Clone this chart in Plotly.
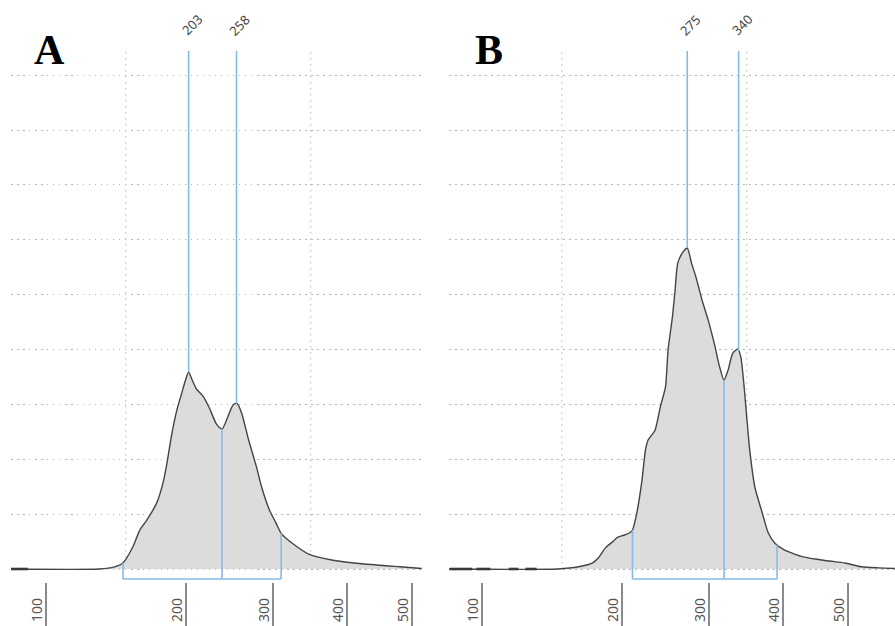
import numpy as np
import plotly.graph_objects as go

# Size ladder: fragment size (bp) vs. migration position (px units)
LADDER_BP = [100, 200, 300, 400, 500]
LADDER_POS = [0, 140, 227, 301, 366]
TICK_LABELS = ["100", "200", "300", "400", "500"]
GRID_BP = [157, 351]

# Sample A trace: size (bp) and fluorescence (grid units)
A_BP = [75, 138, 149, 155, 162, 167, 172, 179, 183.6, 186.4, 190, 193.5, 197, 199.5,
        203, 207.5, 212, 219.5, 227, 235, 241.4, 248, 254, 258.6, 264, 272, 281,
        287, 296, 304, 311, 326, 350, 381, 427, 481, 515]
A_RFU = [0, 0, 0.04, 0.11, 0.40, 0.71, 0.89, 1.20, 1.57, 1.93, 2.48, 2.90, 3.21, 3.43,
         3.59, 3.43, 3.28, 3.15, 2.93, 2.64, 2.55, 2.77, 2.99, 3.02, 2.84, 2.35, 1.86,
         1.49, 1.07, 0.84, 0.65, 0.47, 0.26, 0.16, 0.09, 0.04, 0.01]

# Sample B trace
B_BP = [76, 154, 169, 179, 183, 188, 193, 197, 203, 209, 212, 217, 223, 227, 230,
        238, 244, 250, 253, 258, 261, 264, 269, 275, 280, 285, 292, 299, 308, 314,
        320.3, 325.7, 332, 339, 343, 347, 351, 355, 362, 372, 380, 389, 402, 431,
        468, 495, 521, 547, 572]
B_RFU = [0, 0, 0.04, 0.11, 0.20, 0.38, 0.49, 0.58, 0.62, 0.66, 0.71, 1.02, 1.62, 2.17,
         2.35, 2.53, 2.95, 3.32, 4.00, 4.60, 5.08, 5.57, 5.75, 5.85, 5.57, 5.32, 4.90,
         4.54, 4.06, 3.70, 3.44, 3.62, 3.93, 4.01, 3.86, 3.39, 2.77, 2.17, 1.49, 1.02,
         0.66, 0.47, 0.35, 0.22, 0.15, 0.11, 0.04, 0.02, 0.01]

# Baseline noise segments (bp ranges)
B_NOISE = [(77, 93), (96, 106), (119, 126), (131, 139)]
A_NOISE = [(75, 87)]

A_PEAKS = [203, 258]
B_PEAKS = [275, 340]
A_REGION = [155, 241.4, 311]
B_REGION = [212, 320.3, 392]

Y_TOP = 9.44
Y_BOTTOM = -0.237
BRACKET_Y = -0.182

BLUE = "#84bbe9"
GRID = "#b4b4b4"
FONT = "Noto Sans"


def to_pos(bp):
    bp = np.asarray(bp, dtype=float)
    pos = np.interp(bp, LADDER_BP, LADDER_POS)
    lo_slope = (LADDER_POS[1] - LADDER_POS[0]) / (LADDER_BP[1] - LADDER_BP[0])
    hi_slope = (LADDER_POS[-1] - LADDER_POS[-2]) / (LADDER_BP[-1] - LADDER_BP[-2])
    pos = np.where(bp < LADDER_BP[0], LADDER_POS[0] + (bp - LADDER_BP[0]) * lo_slope, pos)
    pos = np.where(bp > LADDER_BP[-1], LADDER_POS[-1] + (bp - LADDER_BP[-1]) * hi_slope, pos)
    return pos


fig = go.Figure()
shapes = []
annotations = []

panels = [
    ("x", "y", A_BP, A_RFU, A_PEAKS, A_REGION, A_NOISE),
    ("x2", "y2", B_BP, B_RFU, B_PEAKS, B_REGION, B_NOISE),
]

for xref, yref, bp, rfu, peaks, region, noise in panels:
    xp = to_pos(bp)
    fig.add_trace(go.Scatter(
        x=xp, y=rfu, xaxis=xref, yaxis=yref, mode="lines",
        line=dict(color="#444444", width=1.4, shape="spline", smoothing=0.6),
        fill="tozeroy", fillcolor="#dcdcdc", hoverinfo="skip", showlegend=False,
    ))
    nx, ny = [], []
    for a, b in noise:
        nx += [float(to_pos(a)), float(to_pos(b)), None]
        ny += [0, 0, None]
    fig.add_trace(go.Scatter(
        x=nx, y=ny, xaxis=xref, yaxis=yref, mode="lines",
        line=dict(color="#3a3a3a", width=2.6), hoverinfo="skip", showlegend=False,
    ))

    # vertical dotted grid
    for g in GRID_BP:
        gx = float(to_pos(g))
        shapes.append(dict(type="line", xref=xref, yref=yref, x0=gx, x1=gx, y0=0.1, y1=Y_TOP,
                           line=dict(color=GRID, width=1, dash="1.5px,4.5px"), layer="below"))

    # peak markers
    for p in peaks:
        px = float(to_pos(p))
        py = float(np.interp(p, bp, rfu))
        shapes.append(dict(type="line", xref=xref, yref=yref, x0=px, x1=px, y0=py, y1=Y_TOP,
                           line=dict(color=BLUE, width=1.6)))
        annotations.append(dict(text=str(p), xref=xref, yref="paper", x=px, y=1 - 25 / 626,
                                xanchor="center", yanchor="middle", xshift=3,
                                textangle=-45, showarrow=False,
                                font=dict(family=FONT, size=13, color="#484848")))

    # region bracket
    rx = [float(to_pos(r)) for r in region]
    for r, x in zip(region, rx):
        ry = float(np.interp(r, bp, rfu))
        shapes.append(dict(type="line", xref=xref, yref=yref, x0=x, x1=x, y0=BRACKET_Y, y1=ry,
                           line=dict(color=BLUE, width=1.6)))
    shapes.append(dict(type="line", xref=xref, yref=yref, x0=rx[0], x1=rx[-1],
                       y0=BRACKET_Y, y1=BRACKET_Y, line=dict(color=BLUE, width=1.6)))

    # size labels beside the tall ticks
    for v, t in zip(LADDER_BP, TICK_LABELS):
        annotations.append(dict(text=t, xref=xref, yref="paper", x=float(to_pos(v)),
                                y=1 - 610 / 626, xanchor="center", yanchor="middle",
                                xshift=-10, textangle=-90, showarrow=False,
                                font=dict(family=FONT, size=14, color="#555555")))

# panel letters
for letter, cx in (("A", 49), ("B", 489)):
    annotations.append(dict(text=f"<b>{letter}</b>", xref="paper", yref="paper",
                            x=cx / 895, y=1 - 50 / 626, xanchor="center", yanchor="middle",
                            showarrow=False,
                            font=dict(family="Liberation Serif", size=42, color="black")))

y_dom = [1 - 582 / 626, 1 - 51 / 626]
xaxis_common = dict(
    tickmode="array", tickvals=list(to_pos(LADDER_BP)), showticklabels=False,
    ticks="outside", ticklen=44, tickwidth=1.5, tickcolor="#8a8a8a",
    showgrid=False, zeroline=False, showline=False, fixedrange=True,
)
yaxis_common = dict(
    range=[Y_BOTTOM, Y_TOP], domain=y_dom, tick0=0, dtick=1, showticklabels=False,
    showgrid=True, gridcolor=GRID, griddash="1.5px,4.5px", gridwidth=1,
    zeroline=False, showline=False, ticks="", fixedrange=True,
)

fig.update_layout(
    width=895, height=626,
    margin=dict(l=0, r=0, t=0, b=0),
    paper_bgcolor="white", plot_bgcolor="white",
    xaxis=dict(domain=[11 / 895, 422 / 895], range=[-35, 376], anchor="y", **xaxis_common),
    xaxis2=dict(domain=[449 / 895, 1.0], range=[-33, 413], anchor="y2", **xaxis_common),
    yaxis=dict(anchor="x", **yaxis_common),
    yaxis2=dict(anchor="x2", **yaxis_common),
    shapes=shapes,
    annotations=annotations,
    showlegend=False,
)

fig.write_html("out.html")
